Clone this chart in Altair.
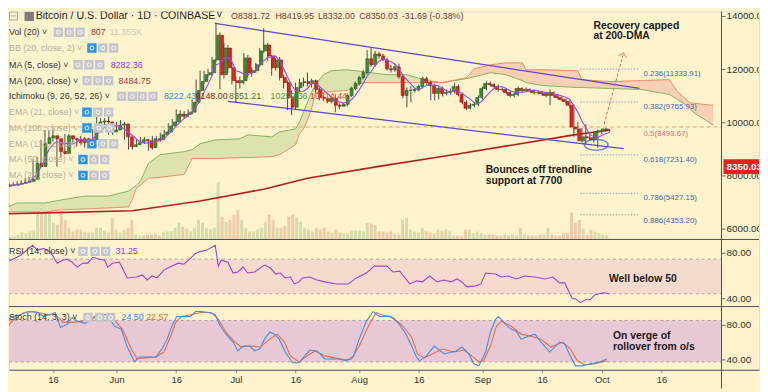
import altair as alt
import numpy as np
import pandas as pd

# ---------------- values ----------------
# day = days after 1 Jun 2019 (first candle 4 May, last candle 3 Oct)
days = list(range(-28, 125))
first_open = 7615
closes = [
    7650, 7650, 7690, 7725, 7765, 7800, 7875,
    8470, 8355, 9210, 9435, 9510, 9395, 8915, 8840, 9510, 9395,
    9360, 9250, 9395, 9250, 9360, 9695, 10030, 10065, 10030, 9655, 9730,
    9915, 9955, 9470, 9100, 9175, 9250, 9360, 9320, 9065, 9395,
    9360, 9545, 9655, 9880, 10030, 10325, 10250, 10325, 10400, 10770,
    11215, 11550, 11810, 11885, 12365, 13295, 11810, 12810, 12070, 11585,
    11510, 11585, 12440, 11885, 11960, 12180, 12700, 12925, 12515, 12070,
    12365, 11700, 11510, 10955, 10585, 11325, 11510, 11550, 11475, 11585,
    11255, 10955, 10920, 10805, 10920, 10660, 10620, 10695, 11030, 11290,
    11475, 11700, 11885, 12405, 12180, 12590, 12515, 12365, 12030, 11995,
    12105, 11735, 11030, 11215, 11215, 11255, 11365, 11660, 11510, 11400,
    11105, 11290, 11105, 11140, 11180, 11365, 11065, 10770, 10545, 10660,
    10695, 10955, 11290, 11475, 11440, 11365, 11255, 11255, 11140, 11030,
    11065, 11290, 11215, 11255, 11215, 11140, 11140, 11105, 11030, 11140,
    11030, 10955, 10880, 10805, 10660, 9840, 9770, 9320, 9470, 9435,
    9360, 9655, 9695, 9770, 9730,
]
highs = [
    7725, 7725, 7765, 7800, 7840, 7910, 7950,
    8620, 8730, 9360, 9730, 9695, 9770, 9470, 9065, 9580, 9580,
    9510, 9435, 9510, 9470, 9435, 9770, 10215, 10175, 10175, 10290, 9840,
    10030, 10100, 10030, 9545, 9285, 9360, 9470, 9470, 9395, 9510,
    9510, 9620, 9730, 9990, 10140, 10510, 10475, 10435, 10510, 10880,
    11625, 11960, 11960, 12030, 12475, 13775, 13405, 13000, 12925, 12255,
    11735, 11735, 12625, 12550, 12070, 12255, 12810, 13555, 13000, 12550,
    12440, 12475, 11810, 11590, 11215, 11510, 11660, 11700, 11885, 11660,
    11625, 11325, 11030, 10955, 10995, 11065, 10735, 10770, 11105, 11365,
    11550, 11770, 11995, 12735, 12810, 12700, 12665, 12590, 12440, 12180,
    12220, 12220, 11810, 11325, 11365, 11325, 11440, 11735, 11735, 11585,
    11475, 11365, 11365, 11255, 11290, 11510, 11440, 11140, 10845, 10735,
    10770, 11030, 11365, 11550, 11550, 11475, 11440, 11325, 11290, 11215,
    11140, 11365, 11325, 11325, 11290, 11255, 11215, 11180, 11140, 11255,
    11180, 11065, 10995, 10920, 10845, 10695, 10030, 9805, 9955, 9545,
    9510, 9730, 9770, 9805, 9770,
]
lows = [
    7580, 7580, 7615, 7650, 7690, 7725, 7765,
    7800, 8245, 8320, 9135, 9320, 9285, 8355, 8690, 8805, 9285,
    9250, 9100, 9175, 9065, 9065, 9320, 9655, 9915, 9915, 9545, 9545,
    9655, 9805, 9360, 8990, 8990, 9100, 9175, 9210, 8950, 8990,
    9250, 9285, 9470, 9580, 9805, 9955, 10140, 10175, 10215, 10325,
    10695, 11140, 11475, 11735, 11770, 12290, 11255, 11660, 11885, 11440,
    10770, 11290, 11440, 11700, 11735, 11885, 12105, 12625, 12330, 11770,
    11960, 11590, 11290, 10475, 10290, 10510, 11140, 11365, 11365, 11325,
    11140, 10845, 10805, 10735, 10735, 10400, 10510, 10620, 10620, 10955,
    11215, 11400, 11625, 11810, 12105, 12105, 12405, 12330, 11960, 11885,
    11920, 11660, 10920, 10585, 10770, 11140, 11180, 11290, 11400, 10845,
    10845, 10880, 10995, 11030, 11065, 11105, 10995, 10695, 10475, 10510,
    10585, 10620, 10880, 11215, 11365, 11290, 11180, 11180, 11065, 10955,
    10955, 10995, 11140, 11180, 11140, 11065, 11065, 11030, 10955, 10660,
    10955, 10880, 10805, 10735, 10545, 9470, 9655, 9250, 9210, 9320,
    9250, 9065, 9580, 9655, 9655,
]
vols = [  # thousand BTC
    3, 3, 5, 7, 6, 8, 9,
    27, 32, 28, 26, 17, 15, 32, 20, 12, 8,
    10, 10, 8, 7, 7, 12, 12, 9, 7, 22, 10,
    7, 10, 12, 20, 5, 4, 4, 5, 5, 6,
    4, 7, 8, 8, 12, 17, 13, 11, 8, 12,
    20, 17, 12, 10, 12, 58, 23, 18, 20, 25,
    30, 20, 12, 8, 8, 10, 12, 18, 25, 20,
    12, 12, 14, 23, 25, 22, 18, 12, 10, 8,
    12, 10, 12, 8, 7, 10, 7, 6, 6, 9,
    9, 9, 8, 17, 16, 15, 8, 8, 7, 8,
    6, 5, 20, 22, 10, 8, 7, 12, 8, 7,
    6, 10, 9, 10, 8, 4, 4, 3, 10, 10,
    6, 8, 6, 5, 5, 5, 4, 4, 5, 4,
    5, 4, 12, 5, 4, 4, 4, 5, 5, 12,
    5, 4, 4, 6, 6, 27, 17, 20, 11, 5,
    10, 8, 6, 5, 4,
]

ma200_days = [-29, -18, 4, 21, 37, 48, 66, 85, 100, 115, 124]
ma200_vals = [6575, 6610, 6690, 7060, 7500, 7910, 8360, 8810, 9175, 9545, 9730]

cloud_days = [-29, -25, -18, -14, -8, -2, 3, 4, 5, 6, 8, 11, 17, 19, 21, 25, 31, 33, 39, 41,
              45, 46, 47, 48, 49, 50, 52, 54, 58, 62, 68, 73, 78, 82, 88, 90, 94, 98, 102, 103,
              107, 116, 117, 124, 132, 139, 141, 144, 145, 150]
span_a = [6724, 6984, 6984, 7095, 7244, 7244, 7429, 7541, 7652, 7800, 8469, 8803, 8914, 8988, 9211,
          9359, 9397, 9545, 9471, 9656, 9768, 10028, 10399, 10770, 11141, 11438, 11809, 11958, 11995,
          11921, 11809, 11809, 11587, 11512, 11661, 11735, 11884, 11809, 11587, 11512, 11401, 11327,
          11327, 11290, 11253, 11067, 10881, 10584, 10399, 9916]
span_b = [6650, 6650, 6650, 6724, 6761, 6798, 6835, 7132, 7541, 7652, 7912, 7949, 8060, 8654, 8654,
          8654, 8691, 8691, 8728, 8803, 9174, 9582, 9768, 10102, 10510, 11141, 11141, 11178, 11216,
          11512, 11512, 11512, 11512, 11512, 11698, 12032, 12181, 12255, 12255, 11995, 11995, 11958,
          11624, 11550, 11587, 11624, 11178, 10770, 10733, 10659]
cloud_cross_day = 82

rsi_days = [-29.0, -26.6, -24.1, -21.1, -19.9, -18.4, -16.6, -14.9, -13.6, -12.4,
            -11.2, -9.9, -8.4, -7.2, -6.0, -4.2, -3.0, -2.2, -1.0, 0.7,
            2.7, 5.0, 6.5, 7.7, 8.9, 10.2, 11.9, 13.9, 15.6, 16.9,
            18.1, 19.9, 21.3, 22.6, 24.8, 25.6, 26.3, 28.0, 29.3, 30.5,
            31.8, 33.0, 34.7, 37.2, 38.7, 40.0, 41.2, 42.4, 43.7, 44.7,
            45.9, 46.7, 48.6, 50.4, 52.4, 55.3, 58.3, 60.3, 62.8, 64.8,
            66.3, 68.0, 69.5, 71.2, 73.7, 75.4, 76.9, 78.7, 80.6, 82.4,
            84.1, 85.6, 86.8, 88.1, 90.3, 91.6, 92.8, 95.3, 96.8, 98.5,
            100.5, 102.7, 105.2, 107.7, 109.7, 111.4, 112.7, 114.6, 115.4, 116.6,
            117.9, 119.1, 120.3, 122.6, 123.8]
rsi_vals = [76.5, 73.9, 78.3, 87.0, 82.6, 84.3, 80.9, 71.3, 73.9, 74.8,
            72.2, 67.8, 71.3, 71.3, 76.5, 74.8, 73.9, 67.8, 71.3, 72.2,
            58.3, 59.1, 60.9, 56.5, 60.0, 58.3, 65.2, 68.7, 71.3, 70.4,
            73.9, 80.0, 81.7, 82.6, 87.0, 68.7, 73.9, 72.2, 62.6, 63.5,
            67.8, 62.6, 63.5, 69.6, 67.0, 61.7, 62.6, 58.3, 59.1, 53.0,
            54.8, 58.3, 59.1, 56.5, 54.8, 53.0, 53.0, 58.3, 62.6, 68.7,
            68.7, 68.7, 63.5, 64.3, 53.0, 55.7, 54.8, 60.0, 54.8, 56.5,
            54.8, 57.4, 54.8, 50.4, 51.3, 53.0, 62.6, 61.7, 59.1, 60.0,
            57.4, 60.0, 59.1, 57.4, 59.1, 53.9, 53.9, 40.0, 40.0, 36.5,
            39.1, 39.1, 43.5, 45.2, 44.3]

k_days = [-29.0, -26.6, -24.1, -22.1, -19.9, -18.4, -16.6, -15.4, -14.1, -12.4,
          -11.2, -9.7, -7.9, -6.2, -4.2, -2.5, -0.5, 1.2, 2.7, 4.5,
          5.7, 7.4, 9.9, 11.4, 12.7, 13.9, 15.1, 16.9, 18.6, 19.9,
          21.3, 23.1, 24.8, 26.1, 27.5, 29.3, 30.5, 31.8, 33.5, 34.7,
          36.0, 37.2, 38.5, 39.7, 40.9, 42.4, 44.2, 45.9, 47.1, 48.6,
          50.4, 52.4, 54.6, 56.1, 57.8, 59.6, 61.0, 62.8, 64.5, 66.0,
          68.7, 70.5, 72.5, 74.2, 75.4, 76.2, 77.9, 79.9, 82.4, 85.4,
          86.8, 88.6, 89.8, 91.1, 92.8, 94.0, 95.3, 96.0, 97.8, 99.3,
          100.5, 101.7, 103.5, 105.2, 106.7, 108.9, 111.4, 112.7, 114.1, 115.4,
          117.1, 119.1, 121.6, 123.3]
k_vals = [78.9, 89.1, 92.6, 96.0, 94.9, 90.3, 92.6, 94.9, 77.7, 81.1,
          89.1, 84.6, 82.3, 89.1, 92.6, 92.6, 78.9, 75.4, 54.9, 37.7,
          43.4, 43.4, 43.4, 52.6, 64.0, 78.9, 90.3, 90.3, 90.3, 96.0,
          96.0, 94.9, 92.6, 78.9, 69.7, 60.6, 50.3, 56.0, 56.0, 50.3,
          52.6, 64.0, 72.0, 69.7, 64.0, 49.1, 36.6, 36.6, 43.4, 51.4,
          50.3, 41.1, 41.1, 41.1, 38.9, 44.6, 64.0, 84.6, 96.0, 90.3,
          90.3, 84.6, 72.0, 56.0, 43.4, 38.9, 44.6, 56.0, 46.9, 50.3,
          54.9, 46.9, 35.4, 33.1, 49.1, 72.0, 86.9, 90.3, 81.1, 75.4,
          73.1, 64.0, 67.4, 69.7, 60.6, 49.1, 60.6, 58.3, 44.6, 33.1,
          33.1, 35.4, 37.7, 41.1]
d_days = [-29.0, -26.6, -23.3, -20.8, -17.4, -15.4, -13.4, -11.2, -9.2, -7.2,
          -5.0, -2.5, 0.0, 1.5, 3.7, 5.2, 6.9, 9.9, 11.9, 13.6,
          14.9, 16.4, 18.9, 21.3, 23.8, 25.6, 27.5, 29.8, 31.3, 33.7,
          36.2, 38.5, 40.4, 42.2, 43.7, 45.9, 47.9, 49.9, 52.4, 54.8,
          57.3, 59.1, 61.0, 63.3, 65.3, 66.3, 69.5, 72.0, 74.2, 75.7,
          77.4, 79.4, 81.9, 84.9, 87.3, 89.3, 91.1, 92.3, 94.0, 95.5,
          96.8, 99.3, 101.7, 104.2, 106.7, 109.2, 112.2, 114.1, 115.9, 117.6,
          120.1, 123.3]
d_vals = [64.0, 83.4, 94.9, 96.0, 92.6, 92.6, 83.4, 83.4, 84.6, 84.6,
          90.3, 92.6, 83.4, 75.4, 52.6, 41.1, 42.3, 43.4, 49.1, 67.4,
          83.4, 90.3, 92.6, 94.9, 94.9, 86.9, 72.0, 60.6, 54.9, 56.0,
          54.9, 64.0, 69.7, 60.6, 44.6, 37.7, 44.6, 50.3, 44.6, 42.3,
          40.0, 41.1, 56.0, 78.9, 94.9, 92.6, 89.1, 78.9, 66.3, 46.9,
          42.3, 46.9, 52.6, 49.1, 51.4, 44.6, 37.7, 38.9, 56.0, 78.9,
          84.6, 78.9, 69.7, 67.4, 64.0, 54.9, 60.6, 52.6, 38.9, 34.3,
          35.4, 38.9]

tick_days = [-16, 0, 15, 30, 45, 61, 76, 92, 107, 122, 137]
tick_labels = ["16", "Jun", "16", "Jul", "16", "Aug", "16", "Sep", "16", "Oct", "16"]
price_ticks = [6000, 8000, 10000, 12000, 14000]
osc_ticks = [40, 80]
rsi_band = [74.8, 44.3]
stoch_band = [85.7, 37.7]

last_price_line = 9842
last_price_label = 8350.03
fib_lines = [12021, 10781, 8791, 7344, 6538]
fib_names = ["0.236(11333.91)", "0.382(9765.93)", "0.5(8498.67)", "0.618(7231.40)",
             "0.786(5427.15)", "0.886(4353.20)"]
fib_label_pos = [11846, 10584, 9582, 8617, 7169, 6316]
channel_upper = [(24.8, 13740), (131.5, 11290)]
channel_lower = [(28.0, 10807), (127.5, 9025)]
arrow = [(122.6, 9953), (127.5, 12626)]
ellipse_at = (120.6, 9174)

# ---------------- scales (pixel ranges follow the reference layout) ----------------
W, H = 760, 363
XDAY = alt.Scale(domain=[-27.05, 161.54], range=[0, W], nice=False, zero=False)
XPIX = alt.Scale(domain=[8, 768], range=[0, W], nice=False, zero=False)
YPIX = alt.Scale(domain=[8, 392], range=[0, 384], nice=False, zero=False)
YPRICE = alt.Scale(domain=[6000, 14000], range=[220.5, 5], nice=False, zero=False)
YVOL = alt.Scale(domain=[0, 231], range=[231, 0], nice=False, zero=False)
YRSI = alt.Scale(domain=[40, 80], range=[291, 245], nice=False, zero=False)
YSTO = alt.Scale(domain=[40, 80], range=[353, 318], nice=False, zero=False)

BG = "#fef3cd"
SEP = "#4f4f58"
FONT = "Liberation Sans"


def xd(field="day"):
    return alt.X(f"{field}:Q", scale=XDAY, axis=None)


def yq(field, scale):
    return alt.Y(f"{field}:Q", scale=scale, axis=None)


# candles
opens = [first_open] + closes[:-1]
cdf = pd.DataFrame({"day": days, "open": opens, "high": highs, "low": lows,
                    "close": closes, "vol": vols})
cdf["high"] = cdf[["high", "open", "close"]].max(axis=1)
cdf["low"] = cdf[["low", "open", "close"]].min(axis=1)
up = alt.datum.close >= alt.datum.open

label_expr = ("[" + ",".join(f"'{t}'" for t in tick_labels) + "][indexof(["
              + ",".join(str(d) for d in tick_days) + "], datum.value)]")
x_axis = alt.Axis(values=tick_days, labelExpr=label_expr, tickSize=3, tickColor="#8a8a8a",
                  domain=True, domainColor=SEP, grid=False, title=None, labelFontSize=9.5,
                  labelColor="#333333", labelPadding=2, labelFont=FONT)

layers = []

# oscillator bands
band_df = pd.DataFrame({"hi": [rsi_band[0]], "lo": [rsi_band[1]]})
layers.append(alt.Chart(band_df).mark_rect(color="#f6dacd").encode(
    x=alt.value(0), x2=alt.value(722), y=yq("hi", YRSI), y2="lo:Q"))
sband_df = pd.DataFrame({"hi": [stoch_band[0]], "lo": [stoch_band[1]]})
layers.append(alt.Chart(sband_df).mark_rect(color="#e9c8d5").encode(
    x=alt.value(0), x2=alt.value(722), y=yq("hi", YSTO), y2="lo:Q"))
layers.append(alt.Chart(pd.DataFrame({"v": rsi_band})).mark_rule(
    color="#b4a2a2", strokeDash=[3, 3], strokeWidth=1).encode(
    x=alt.value(0), x2=alt.value(722), y=yq("v", YRSI)))
layers.append(alt.Chart(pd.DataFrame({"v": stoch_band})).mark_rule(
    color="#b09aa8", strokeDash=[3, 3], strokeWidth=1).encode(
    x=alt.value(0), x2=alt.value(722), y=yq("v", YSTO)))

# ichimoku cloud
cloud = pd.DataFrame({"day": cloud_days, "a": span_a, "b": span_b})
bull = cloud[cloud.day <= cloud_cross_day]
bear = cloud[cloud.day >= cloud_cross_day]
layers.append(alt.Chart(bull).mark_area(color="#dde2ae", clip=True).encode(
    x=xd(), y=yq("a", YPRICE), y2="b:Q"))
layers.append(alt.Chart(bear).mark_area(color="#f9cfb4", clip=True).encode(
    x=xd(), y=yq("a", YPRICE), y2="b:Q"))
layers.append(alt.Chart(cloud).mark_line(color="#7fb561", strokeWidth=1, clip=True).encode(
    x=xd(), y=yq("a", YPRICE)))
layers.append(alt.Chart(cloud).mark_line(color="#f2896c", strokeWidth=1, clip=True).encode(
    x=xd(), y=yq("b", YPRICE)))

# volume
layers.append(alt.Chart(cdf).mark_bar(size=3, clip=True).encode(
    x=xd(), y=yq("vol", YVOL),
    color=alt.condition(up, alt.value("#d3dcab"), alt.value("#efcaab"))))

# MA 200
ma200 = pd.DataFrame({"day": ma200_days, "v": ma200_vals})
layers.append(alt.Chart(ma200).mark_line(color="#b5201e", strokeWidth=1.6, clip=True).encode(
    x=xd(), y=yq("v", YPRICE)))

# last price dashed line
lp = pd.DataFrame({"day": [-27.05, 152.1], "v": [last_price_line, last_price_line]})
layers.append(alt.Chart(lp).mark_line(color="#f3a059", strokeDash=[4, 3], strokeWidth=1,
                                      clip=True).encode(x=xd(), y=yq("v", YPRICE)))

# fibonacci dotted lines
fib_df = pd.DataFrame({"d1": 116.6, "d2": 131.5, "v": fib_lines})
layers.append(alt.Chart(fib_df).mark_rule(color="#98a3bb", strokeDash=[1.5, 1.5],
                                          strokeWidth=1).encode(
    x=xd("d1"), x2="d2:Q", y=yq("v", YPRICE)))

# channel
ch = pd.DataFrame({"d1": [channel_upper[0][0], channel_lower[0][0]],
                   "p1": [channel_upper[0][1], channel_lower[0][1]],
                   "d2": [channel_upper[1][0], channel_lower[1][0]],
                   "p2": [channel_upper[1][1], channel_lower[1][1]]})
layers.append(alt.Chart(ch).mark_rule(color="#5a48c6", strokeWidth=1.3).encode(
    x=xd("d1"), y=yq("p1", YPRICE), x2="d2:Q", y2="p2:Q"))

# candles
layers.append(alt.Chart(cdf).mark_rule(color="#4a4a4a", strokeWidth=1, clip=True).encode(
    x=alt.X("day:Q", scale=XDAY, axis=x_axis), y=yq("low", YPRICE), y2="high:Q"))
layers.append(alt.Chart(cdf).mark_bar(size=3, strokeWidth=0.6, clip=True).encode(
    x=xd(), y=yq("open", YPRICE), y2="close:Q",
    color=alt.condition(up, alt.value("#3c8c34"), alt.value("#e2231f")),
    stroke=alt.condition(up, alt.value("#225c1f"), alt.value("#8a1414"))))

# MA 5
layers.append(alt.Chart(cdf).transform_window(
    ma5="mean(close)", frame=[-4, 0], sort=[alt.SortField("day")]
).mark_line(color="#a447e4", strokeWidth=1.1, clip=True).encode(x=xd(), y=yq("ma5", YPRICE)))

# arrow + ellipse
ar = pd.DataFrame({"d1": [arrow[0][0]], "p1": [arrow[0][1]], "d2": [arrow[1][0]], "p2": [arrow[1][1]]})
layers.append(alt.Chart(ar).mark_rule(color="#f0694a", strokeDash=[3, 2], strokeWidth=1).encode(
    x=xd("d1"), y=yq("p1", YPRICE), x2="d2:Q", y2="p2:Q"))
layers.append(alt.Chart(ar).mark_point(shape="M -0.8 0.8 L 0 0 L 0.8 0.8", size=100, angle=15.5,
                                       filled=False, color="#f0694a", strokeWidth=1).encode(
    x=xd("d2"), y=yq("p2", YPRICE)))
el = pd.DataFrame({"day": [ellipse_at[0]], "v": [ellipse_at[1]]})
layers.append(alt.Chart(el).mark_point(
    shape="M -1 0 A 1 0.46 0 1 0 1 0 A 1 0.46 0 1 0 -1 0 Z", size=576, filled=False,
    color="#2c62c6", strokeWidth=1.5).encode(x=xd(), y=yq("v", YPRICE)))

# oscillators
rsi = pd.DataFrame({"day": rsi_days, "v": rsi_vals})
layers.append(alt.Chart(rsi).mark_line(color="#a442cc", strokeWidth=1.1, clip=True).encode(
    x=xd(), y=yq("v", YRSI)))
kd = pd.DataFrame({"day": d_days, "v": d_vals})
layers.append(alt.Chart(kd).mark_line(color="#f26a38", strokeWidth=1.1, clip=True).encode(
    x=xd(), y=yq("v", YSTO)))
kk = pd.DataFrame({"day": k_days, "v": k_vals})
layers.append(alt.Chart(kk).mark_line(color="#3f8fe6", strokeWidth=1.1, clip=True).encode(
    x=xd(), y=yq("v", YSTO)))

# panel separators and price-scale edge
for yy in (231, 299):
    layers.append(alt.Chart(pd.DataFrame({"k": [0]})).mark_rule(color=SEP, strokeWidth=1).encode(
        x=alt.value(0), x2=alt.value(W), y=alt.value(yy)))
layers.append(alt.Chart(pd.DataFrame({"k": [0]})).mark_rule(color=SEP, strokeWidth=1).encode(
    x=alt.value(722), y=alt.value(0), y2=alt.value(382)))

# right scale ticks and labels
def scale_labels(vals, scale, fmt="{:.2f}"):
    df = pd.DataFrame({"v": vals, "t": [fmt.format(v) for v in vals]})
    t = alt.Chart(df).mark_rule(color="#6a6a6a").encode(
        x=alt.value(722), x2=alt.value(726), y=yq("v", scale))
    l = alt.Chart(df).mark_text(align="left", baseline="middle", fontSize=10, color="#333333",
                                font=FONT, clip=True).encode(
        x=alt.value(727), y=yq("v", scale), text="t:N")
    return [t, l]

layers += scale_labels(price_ticks, YPRICE)
layers += scale_labels(osc_ticks, YRSI)
layers += scale_labels(osc_ticks, YSTO)

plab = pd.DataFrame({"hi": [last_price_label + 280], "lo": [last_price_label - 280],
                     "v": [last_price_label], "t": [f"{last_price_label:.2f}"]})
layers.append(alt.Chart(plab).mark_rect(color="#f41c1c", clip=True).encode(
    x=alt.value(724), x2=alt.value(W), y=yq("hi", YPRICE), y2="lo:Q"))
layers.append(alt.Chart(plab).mark_text(align="left", baseline="middle", fontSize=10,
                                        fontWeight="bold", color="white", font=FONT,
                                        clip=True).encode(
    x=alt.value(727), y=yq("v", YPRICE), text="t:N"))

# fibonacci labels
fl = pd.DataFrame({"day": 132.5, "v": fib_label_pos, "t": fib_names,
                   "c": ["#4865ad", "#4865ad", "#e8737f", "#4865ad", "#4865ad", "#4865ad"]})
layers.append(alt.Chart(fl).mark_text(align="left", baseline="middle", fontSize=8, font=FONT,
                                      clip=True).encode(
    x=xd(), y=yq("v", YPRICE), text="t:N", color=alt.Color("c:N", scale=None, legend=None)))

# annotations
notes_p = pd.DataFrame({"day": [119.9, 119.9, 92.8, 92.8], "v": [13639, 13246, 8209, 7800],
                        "t": ["Recovery capped", "at 200-DMA", "Bounces off trendline",
                              "support at 7700"]})
layers.append(alt.Chart(notes_p).mark_text(align="left", baseline="middle", fontSize=10.5,
                                           fontWeight="bold", color="#1a1a1a", font=FONT,
                                           clip=True).encode(
    x=xd(), y=yq("v", YPRICE), text="t:N"))
layers.append(alt.Chart(pd.DataFrame({"day": [123.8], "v": [57.4], "t": ["Well below 50"]})).mark_text(
    align="left", baseline="middle", fontSize=10.5, fontWeight="bold", color="#1a1a1a",
    font=FONT, clip=True).encode(x=xd(), y=yq("v", YRSI), text="t:N"))
layers.append(alt.Chart(pd.DataFrame({"day": [124.8, 124.8], "v": [67.4, 54.9],
                                      "t": ["On verge of", "rollover from o/s"]})).mark_text(
    align="left", baseline="middle", fontSize=10.5, fontWeight="bold", color="#1a1a1a",
    font=FONT, clip=True).encode(x=xd(), y=yq("v", YSTO), text="t:N"))

# indicator legend (top-left header)
DARK, GREY, OHLC = "#333333", "#b6b0a0", "#7a3b2e"
legend_rows = [
    ("Vol (20) \u02c5", 8, 29, DARK), ("807", 91, 29, "#a33b3b"), ("11.355K", 110, 29, "#d3cbb7"),
    ("BB (20, close, 2) \u02c5", 8, 45, GREY),
    ("MA (5, close) \u02c5", 8, 62, DARK), ("8282.36", 111, 62, "#a335e0"),
    ("MA (200, close) \u02c5", 8, 78, DARK), ("8484.75", 119, 78, "#b43a3a"),
    ("Ichimoku (9, 26, 52, 26) \u02c5", 8, 94, DARK), ("8222.43", 165, 94, "#2a8fe0"),
    ("9148.00", 197, 94, "#8b1f1f"), ("8351.21", 231, 94, "#3d7d30"),
    ("10259.36", 273, 94, "#3f9a3f"), ("10714.44", 313, 94, "#f04a3a"),
    ("EMA (21, close) \u02c5", 8, 110, GREY), ("MA (100, close) \u02c5", 8, 126, GREY),
    ("EMA (110, close) \u02c5", 8, 142, GREY), ("MA (50, close) \u02c5", 8, 158, GREY),
    ("MA (20, close) \u02c5", 8, 174, GREY),
    ("RSI (14, close) \u02c5", 8, 251, DARK), ("31.25", 116, 251, "#a335e0"),
    ("Stoch (14, 3, 3) \u02c5", 8, 318, DARK), ("24.50", 122, 318, "#2a8fe0"),
    ("22.57", 147, 318, "#f06a30"),
    ("O8381.72", 233, 13, OHLC), ("H8419.95", 278, 13, OHLC), ("L8332.00", 321, 13, OHLC),
    ("C8350.03", 363, 13, OHLC), ("-31.69 (-0.38%)", 406, 13, OHLC),
]
lg = pd.DataFrame(legend_rows, columns=["t", "px", "py", "c"])
layers.append(alt.Chart(lg).mark_text(align="left", baseline="middle", fontSize=9, font=FONT,
                                      clip=True).encode(
    x=alt.X("px:Q", scale=XPIX, axis=None), y=alt.Y("py:Q", scale=YPIX, axis=None),
    text="t:N", color=alt.Color("c:N", scale=None, legend=None)))
title_df = pd.DataFrame({"t": ["Bitcoin / U.S. Dollar \u00b7 1D \u00b7 COINBASE", "\u02c5"],
                         "px": [35, 218], "py": [13, 12]})
layers.append(alt.Chart(title_df).mark_text(align="left", baseline="middle", fontSize=10.8,
                                            color="#262626", font=FONT, clip=True).encode(
    x=alt.X("px:Q", scale=XPIX, axis=None), y=alt.Y("py:Q", scale=YPIX, axis=None), text="t:N"))

icon_rows = [
    (29, [58, 69, 80], False), (45, [92, 103, 114], True), (62, [78, 89, 100], False),
    (78, [87, 98, 109], False), (94, [122, 133, 143, 154], False), (110, [87, 98, 109], True),
    (126, [87, 99, 110], True), (142, [92, 103, 114], True), (158, [83, 94, 105], True),
    (174, [83, 94, 105], True), (251, [83, 95, 106], False), (318, [88, 100, 111], False),
]
icons = []
for py, xs, blue_first in icon_rows:
    for j, px in enumerate(xs):
        icons.append({"px": px, "py": py, "c": "#2a93ee" if (blue_first and j == 0) else "#c4c6cc"})
icons.append({"px": 28.5, "py": 13, "c": "#7d7d7d"})
ic = pd.DataFrame(icons)
layers.append(alt.Chart(ic).mark_square(size=90, opacity=1, clip=True).encode(
    x=alt.X("px:Q", scale=XPIX, axis=None), y=alt.Y("py:Q", scale=YPIX, axis=None),
    color=alt.Color("c:N", scale=None, legend=None)))
layers.append(alt.Chart(ic.iloc[:-1]).mark_point(size=14, color="white", strokeWidth=1.2,
                                                 filled=False, clip=True).encode(
    x=alt.X("px:Q", scale=XPIX, axis=None), y=alt.Y("py:Q", scale=YPIX, axis=None)))
box = pd.DataFrame({"px": [12.5], "py": [12.5]})
layers.append(alt.Chart(box).mark_square(size=64, filled=False, color="#8a8a8a", strokeWidth=1,
                                         clip=True).encode(
    x=alt.X("px:Q", scale=XPIX, axis=None), y=alt.Y("py:Q", scale=YPIX, axis=None)))
layers.append(alt.Chart(box).mark_point(shape="M -1 0 L 1 0", size=30, filled=False,
                                        color="#8a8a8a", strokeWidth=1, clip=True).encode(
    x=alt.X("px:Q", scale=XPIX, axis=None), y=alt.Y("py:Q", scale=YPIX, axis=None)))

chart = alt.layer(*layers).resolve_scale(x="independent", y="independent").properties(
    width=W, height=H, padding=0, background=BG
).configure_view(stroke=None).configure(font=FONT)

chart.save("out.html", embed_options={"renderer": "svg", "actions": False})
